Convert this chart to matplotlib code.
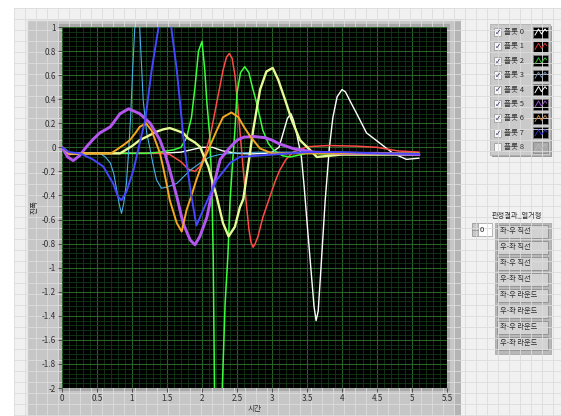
import matplotlib
matplotlib.use('Agg')
import matplotlib.pyplot as plt
from matplotlib.patches import Rectangle
from matplotlib.ticker import MultipleLocator, FuncFormatter
import numpy as np

plt.rcParams['font.family'] = ['Noto Sans CJK KR', 'DejaVu Sans']

# ---------------- data ----------------
x0 = [0.0, 0.1, 0.3, 0.6, 1.0, 1.4, 1.7, 1.85, 2.0, 2.15, 2.3, 2.5, 2.7, 2.9, 3.0, 3.1, 3.16, 3.22, 3.27,
      3.31, 3.35, 3.42, 3.46, 3.5, 3.55, 3.6, 3.63, 3.66, 3.7, 3.76, 3.82, 3.87, 3.93, 4.0, 4.05, 4.12,
      4.21, 4.35, 4.54, 4.73, 4.92, 5.1]
y0 = [0.0, -0.05, -0.05, -0.05, -0.05, -0.05, -0.04, -0.02, 0.0, 0.0, -0.03, -0.05, -0.055, -0.05, -0.04,
      0.0, 0.12, 0.24, 0.28, 0.22, 0.12, -0.08, -0.33, -0.62, -0.97, -1.32, -1.44, -1.36, -1.0, -0.44,
      0.0, 0.25, 0.42, 0.48, 0.46, 0.38, 0.28, 0.12, 0.035, -0.05, -0.1, -0.09]

x1 = [0.0, 0.1, 0.5, 1.0, 1.4, 1.54, 1.7, 1.8, 1.9, 1.97, 2.04, 2.12, 2.21, 2.3, 2.35, 2.39, 2.43, 2.47,
      2.51, 2.55, 2.59, 2.63, 2.67, 2.7, 2.73, 2.76, 2.8, 2.87, 2.97, 3.04, 3.11, 3.2, 3.3, 3.5, 3.8,
      4.2, 4.5, 4.8, 5.1]
y1 = [0.0, -0.06, -0.05, -0.05, -0.05, -0.06, -0.12, -0.18, -0.2, -0.16, -0.06, 0.1, 0.37, 0.64, 0.75,
      0.78, 0.74, 0.6, 0.35, 0.08, -0.19, -0.45, -0.68, -0.79, -0.83, -0.8, -0.74, -0.58, -0.41, -0.29,
      -0.19, -0.1, -0.04, 0.005, 0.015, 0.01, 0.0, -0.03, -0.04]

x2 = [0.0, 0.1, 0.6, 1.2, 1.4, 1.6, 1.7, 1.78, 1.85, 1.9, 1.95, 2.0, 2.04, 2.07, 2.11, 2.14, 2.16, 2.18,
      2.22, 2.26, 2.29, 2.33, 2.37, 2.4, 2.44, 2.47, 2.5, 2.55, 2.61, 2.67, 2.72, 2.78, 2.87, 2.95,
      3.02, 3.15, 3.26, 3.5, 4.0, 4.5, 5.1]
y2 = [0.0, -0.05, -0.05, -0.05, -0.04, -0.02, 0.0, 0.08, 0.25, 0.5, 0.8, 0.88, 0.64, 0.37, 0.1, -0.3,
      -0.9, -2.1, -2.6, -2.6, -2.0, -1.3, -0.9, -0.45, -0.1, 0.14, 0.45, 0.62, 0.67, 0.62, 0.5, 0.37,
      0.14, 0.03, -0.02, -0.07, -0.08, -0.05, -0.06, -0.06, -0.06]

x3 = [0.0, 0.1, 0.3, 0.54, 0.62, 0.69, 0.74, 0.78, 0.82, 0.85, 0.88, 0.92, 0.95, 0.98, 1.01, 1.04, 1.075,
      1.11, 1.16, 1.21, 1.26, 1.3, 1.35, 1.42, 1.5, 1.64, 1.83, 2.0, 2.11, 2.25, 2.44, 2.8, 3.5, 4.2, 5.1]
y3 = [0.0, -0.05, -0.05, -0.05, -0.08, -0.13, -0.22, -0.35, -0.48, -0.55, -0.47, -0.3, -0.05, 0.25, 0.65,
      1.0, 1.25, 1.0, 0.39, 0.12, -0.02, -0.14, -0.27, -0.34, -0.33, -0.3, -0.19, -0.12, -0.08, -0.06,
      -0.05, -0.04, -0.04, -0.05, -0.05]

x4 = [0.0, 0.1, 0.5, 0.83, 1.0, 1.11, 1.25, 1.35, 1.45, 1.54, 1.64, 1.73, 1.8, 1.9, 1.97, 2.09, 2.21,
      2.3, 2.38, 2.47, 2.54, 2.59, 2.66, 2.73, 2.83, 2.92, 3.01, 3.09, 3.19, 3.28, 3.4, 3.54, 3.64,
      4.0, 4.5, 5.1]
y4 = [0.0, -0.05, -0.05, -0.05, 0.01, 0.06, 0.1, 0.13, 0.15, 0.16, 0.14, 0.12, 0.075, 0.04, 0.005, -0.16,
      -0.41, -0.63, -0.74, -0.66, -0.5, -0.43, -0.15, 0.14, 0.48, 0.63, 0.66, 0.56, 0.39, 0.23, 0.06,
      -0.02, -0.08, -0.06, -0.06, -0.06]

x5 = [0.0, 0.08, 0.16, 0.25, 0.35, 0.45, 0.54, 0.69, 0.83, 0.95, 1.11, 1.26, 1.4, 1.47, 1.54, 1.64, 1.73,
      1.83, 1.9, 1.97, 2.07, 2.16, 2.26, 2.4, 2.5, 2.6, 2.75, 2.9, 3.0, 3.1, 3.3, 3.6, 4.0, 4.5, 5.1]
y5 = [0.0, -0.08, -0.11, -0.07, 0.005, 0.07, 0.12, 0.17, 0.28, 0.32, 0.28, 0.2, 0.06, -0.05, -0.19, -0.41,
      -0.63, -0.77, -0.81, -0.74, -0.58, -0.33, -0.1, 0.0, 0.06, 0.085, 0.09, 0.08, 0.06, 0.03, -0.01,
      -0.04, -0.05, -0.05, -0.06]

x6 = [0.0, 0.1, 0.5, 0.7, 0.78, 0.88, 0.97, 1.05, 1.11, 1.2, 1.28, 1.35, 1.4, 1.45, 1.5, 1.54, 1.64,
      1.71, 1.78, 1.85, 1.92, 2.0, 2.09, 2.21, 2.3, 2.42, 2.52, 2.6, 2.69, 2.83, 3.0, 3.5, 4.0, 4.5, 5.1]
y6 = [0.0, -0.05, -0.05, -0.05, -0.02, 0.02, 0.06, 0.12, 0.17, 0.2, 0.14, 0.03, -0.05, -0.18, -0.32,
      -0.44, -0.63, -0.7, -0.52, -0.4, -0.27, -0.14, -0.02, 0.14, 0.25, 0.29, 0.25, 0.17, 0.09, -0.01,
      -0.05, -0.05, -0.05, -0.05, -0.05]

x7 = [0.0, 0.1, 0.26, 0.44, 0.59, 0.73, 0.8, 0.85, 0.92, 1.02, 1.11, 1.19, 1.28, 1.38, 1.46, 1.56,
      1.64, 1.71, 1.73, 1.78, 1.85, 1.92, 2.04, 2.21, 2.4, 2.54, 3.02, 3.5, 4.0, 4.5, 5.1]
y7 = [0.0, -0.04, -0.05, -0.1, -0.16, -0.3, -0.41, -0.44, -0.37, -0.19, 0.035, 0.23, 0.64, 1.0, 1.25,
      1.0, 0.64, 0.23, 0.1, -0.13, -0.41, -0.65, -0.49, -0.27, -0.13, -0.08, -0.06, -0.04, -0.04,
      -0.05, -0.055]

series_x = [x0, x1, x2, x3, x4, x5, x6, x7]
series_y = [y0, y1, y2, y3, y4, y5, y6, y7]
series_colors = ['#ffffff', '#ff4a4a', '#3cff3c', '#4aaee6', '#e6fa96', '#b456f0', '#f5a623', '#4646ff']
series_lw = [1.0, 1.1, 1.1, 0.8, 1.7, 2.1, 1.4, 1.4]

legend_labels = ['플롯 0', '플롯 1', '플롯 2', '플롯 3', '플롯 4', '플롯 5', '플롯 6', '플롯 7', '플롯 8']
legend_colors = ['#ffffff', '#e03030', '#30c030', '#6a8aaa', '#ffffff', '#9a50d0', '#c08040', '#3030c0', '#b8b8b8']
legend_checked = [True, True, True, True, True, True, True, True, False]

button_labels = ['좌-우 직선', '우-좌 직선', '좌-우 직선', '우-좌 직선',
                 '좌-우 라운드', '우-좌 라운드', '좌-우 라운드', '우-좌 라운드']

x_ticks = [0, 0.5, 1, 1.5, 2, 2.5, 3, 3.5, 4, 4.5, 5, 5.5]
y_ticks = [1, 0.8, 0.6, 0.4, 0.2, 0, -0.2, -0.4, -0.6, -0.8, -1, -1.2, -1.4, -1.6, -1.8, -2]

# ---------------- figure ----------------
W, H = 561, 416
fig = plt.figure(figsize=(W / 100, H / 100), dpi=100)
fig.patch.set_facecolor('white')

bg = fig.add_axes([0, 0, 1, 1], zorder=0)
bg.set_xlim(0, W)
bg.set_ylim(H, 0)
bg.axis('off')

# LabVIEW front-panel grid
bg.add_patch(Rectangle((14, 8), W - 14, H - 8, facecolor='#f1f1f1', edgecolor='none'))
for gx in np.arange(14, W, 11):
    bg.plot([gx, gx], [8, H], color='#dcdcdc', lw=0.6)
for gy in np.arange(8, H, 11):
    bg.plot([14, W], [gy, gy], color='#dcdcdc', lw=0.6)

# graph panel
bg.add_patch(Rectangle((27, 19), 434, 397, facecolor='#c6c6c6', edgecolor='none'))
bg.plot([27, 461], [19.5, 19.5], color='#e4e4e4', lw=1)
bg.plot([27.5, 27.5], [19, 416], color='#e4e4e4', lw=1)
bg.add_patch(Rectangle((455, 19), 6, 397, facecolor='#b4b4b4', edgecolor='none'))
bg.add_patch(Rectangle((59, 24), 391, 367, facecolor='#a8a8a8', edgecolor='none'))

# legend box
bg.add_patch(Rectangle((492, 26), 60, 131, facecolor='#9a9a9a', edgecolor='none'))
bg.add_patch(Rectangle((490, 24), 60, 131, facecolor='#cacaca', edgecolor='#b0b0b0', lw=0.6))
for i, (lab, col, chk) in enumerate(zip(legend_labels, legend_colors, legend_checked)):
    cy = 32 + i * 14.4
    bg.add_patch(Rectangle((494.5, cy - 4), 7, 8, facecolor='#f8f8f8', edgecolor='#909090', lw=0.5))
    if chk:
        bg.text(498, cy + 0.3, '✓', fontsize=5.5, ha='center', va='center', color='#303060',
                family=['DejaVu Sans'])
    bg.text(504, cy, lab, fontsize=5.5, ha='left', va='center', color='#303030')
    face = '#000000' if chk else '#a8a8a8'
    bg.add_patch(Rectangle((533, cy - 5.5), 15, 11, facecolor=face, edgecolor='#808080', lw=0.5))
    bg.plot([535, 538.5, 541.5, 545, 546.5], [cy + 3, cy - 3, cy + 2, cy - 3, cy - 1], color=col, lw=0.7)

# enum control
bg.text(517, 216, '판정결과_열거형', fontsize=5.2, ha='center', va='center', color='#303030')
bg.add_patch(Rectangle((472, 223), 6, 13, facecolor='#c8c8c8', edgecolor='#8a8a8a', lw=0.5))
bg.plot([472, 478], [229.5, 229.5], color='#8a8a8a', lw=0.5)
bg.add_patch(Rectangle((478, 223), 14, 13, facecolor='#ffffff', edgecolor='#9a9a9a', lw=0.5))
bg.text(480, 229.5, '0', fontsize=5.5, ha='left', va='center', color='#202020')
bg.add_patch(Rectangle((495, 223), 56, 131, facecolor='#b8b8b8', edgecolor='#a0a0a0', lw=0.5))
for k, lab in enumerate(button_labels):
    top = 225 + k * 16
    bg.add_patch(Rectangle((497, top), 51, 12.5, facecolor='#d2d2d2', edgecolor='#8c8c8c', lw=0.6))
    bg.text(500, top + 6.5, lab, fontsize=5.2, ha='left', va='center', color='#303030')

# ---------------- main plot ----------------
ax = fig.add_axes([62 / W, (H - 388) / H, (447 - 62) / W, (388 - 27) / H], zorder=1)
ax.set_facecolor('black')
ax.set_xlim(0, 5.5)
ax.set_ylim(-2, 1)
ax.xaxis.set_minor_locator(MultipleLocator(0.1))
ax.yaxis.set_minor_locator(MultipleLocator(0.04))
ax.set_xticks(x_ticks)
ax.set_yticks(y_ticks)
fmt = FuncFormatter(lambda v, p: ('%g' % round(v, 2)) if abs(v) > 1e-9 else '0')
ax.xaxis.set_major_formatter(fmt)
ax.yaxis.set_major_formatter(fmt)
ax.grid(which='minor', color='#163816', lw=0.6)
ax.grid(which='major', color='#2a602a', lw=0.8)
ax.set_axisbelow(True)
ax.tick_params(which='major', direction='out', length=3, width=0.6, color='#404040',
               labelsize=5.8, labelcolor='#303030', pad=1.5)
ax.tick_params(which='minor', length=0)
for s in ax.spines.values():
    s.set_visible(False)

for xs, ys, c, lw in zip(series_x, series_y, series_colors, series_lw):
    ax.plot(xs, ys, color=c, lw=lw, solid_joinstyle='round', solid_capstyle='round')

ax.set_xlabel('시간', fontsize=5.5, color='#303030', labelpad=1)
ax.set_ylabel('진폭', fontsize=5.5, color='#303030', labelpad=2)

fig.savefig('out.png', dpi=100, facecolor=fig.get_facecolor())
